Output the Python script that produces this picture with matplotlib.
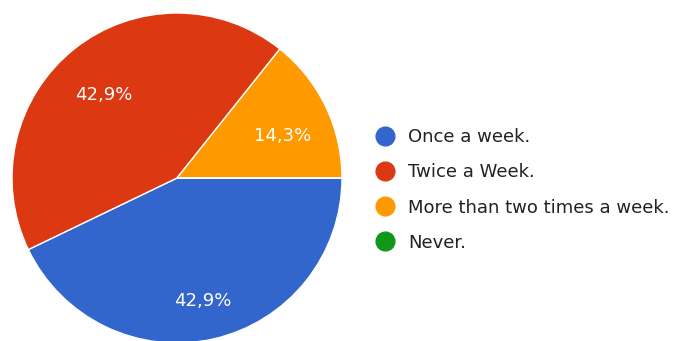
import matplotlib
matplotlib.use("Agg")
import matplotlib.pyplot as plt
from matplotlib.lines import Line2D

categories = ["Once a week.", "Twice a Week.", "More than two times a week.", "Never."]
counts = [3, 3, 1, 0]
colors = ["#3366cc", "#dc3912", "#ff9900", "#109618"]

plt.rcParams["font.family"] = ["DejaVu Sans"]

W, H = 691, 341
fig = plt.figure(figsize=(W / 100, H / 100), dpi=100)

# pie centred at (177, 178) px with radius 165 px
cx, cy, r = 177, 178, 165
ax = fig.add_axes([(cx - r) / W, (H - cy - r) / H, 2 * r / W, 2 * r / H])


def pct_label(p):
    if p <= 0:
        return ""
    return f"{p:.1f}%".replace(".", ",")


wedges, _, autotexts = ax.pie(
    counts,
    colors=colors,
    startangle=0,
    counterclock=False,
    radius=1.0,
    autopct=pct_label,
    pctdistance=0.71,
    wedgeprops=dict(edgecolor="white", linewidth=1.0),
    textprops=dict(color="white", fontsize=13),
)
for t in autotexts:
    t.set_verticalalignment("top")
ax.set_xlim(-1, 1)
ax.set_ylim(-1, 1)
ax.set_aspect("equal")
ax.axis("off")

handles = [
    Line2D([0], [0], marker="o", linestyle="", markersize=13.5,
           markerfacecolor=c, markeredgecolor=c)
    for c in colors
]
leg = fig.legend(
    handles, categories,
    loc="center left",
    bbox_to_anchor=(375 / W, 1 - 190 / H),
    frameon=False,
    fontsize=13,
    labelspacing=0.95,
    handletextpad=0.75,
    handlelength=1.1,
    borderaxespad=0,
    borderpad=0,
)
for t in leg.get_texts():
    t.set_color("#222222")

fig.savefig("out.png", dpi=100)
